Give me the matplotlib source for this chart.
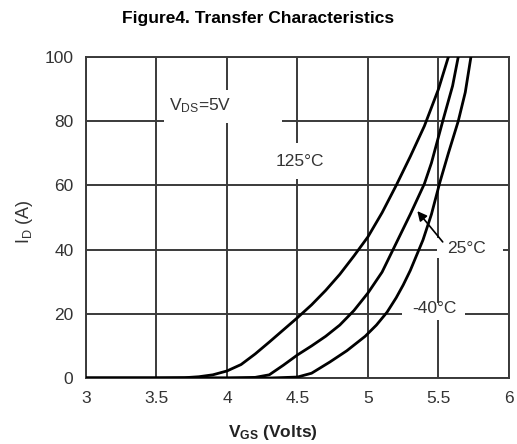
import matplotlib
matplotlib.use('Agg')
import matplotlib.pyplot as plt
from matplotlib.patches import Rectangle

plt.rcParams['font.family'] = ['Liberation Sans', 'DejaVu Sans']
plt.rcParams['mathtext.fontset'] = 'custom'
plt.rcParams['mathtext.rm'] = 'Liberation Sans'
plt.rcParams['mathtext.it'] = 'Liberation Sans:italic'
plt.rcParams['mathtext.bf'] = 'Liberation Sans:bold'

# Curves (VGS in volts, ID in amps)
vgs_125 = [3.0, 3.5, 3.7, 3.8, 3.9, 4.0, 4.1, 4.2, 4.3, 4.4, 4.5, 4.6, 4.7, 4.8,
           4.9, 5.0, 5.1, 5.2, 5.3, 5.4, 5.5, 5.57]
id_125 = [0, 0, 0.1, 0.4, 1.0, 2.2, 4.2, 7.5, 11.2, 15.0, 18.8, 22.8, 27.3, 32.3,
          38, 44, 51.5, 60, 69, 78.5, 90, 100]

vgs_25 = [3.0, 4.0, 4.2, 4.3, 4.4, 4.5, 4.6, 4.7, 4.8, 4.9, 5.0, 5.1, 5.2, 5.3,
          5.4, 5.45, 5.53, 5.6, 5.64]
id_25 = [0, 0, 0.2, 1.0, 4.0, 7.2, 10.0, 13.0, 16.5, 21.0, 26.5, 33, 42, 51,
         60.5, 67, 80, 91, 100]

vgs_m40 = [3.0, 4.3, 4.5, 4.6, 4.73, 4.85, 4.98, 5.06, 5.135, 5.2, 5.25, 5.3, 5.39,
           5.45, 5.51, 5.57, 5.64, 5.69, 5.73]
id_m40 = [0, 0, 0.3, 1.5, 5, 8.5, 13, 16.5, 20.5, 25, 29, 33.5, 43,
          51, 61, 70, 80, 89, 100]

x_ticks = [3, 3.5, 4, 4.5, 5, 5.5, 6]
x_labels = ['3', '3.5', '4', '4.5', '5', '5.5', '6']
y_ticks = [0, 20, 40, 60, 80, 100]

grid_col = '#3a3a3a'
text_col = '#333333'

fig = plt.figure(figsize=(5.17, 4.44), dpi=100)
ax = fig.add_axes([0.1663, 0.1486, 0.8182, 0.723])

ax.set_xlim(3, 6)
ax.set_ylim(0, 100)
ax.set_xticks(x_ticks)
ax.set_xticklabels(x_labels)
ax.set_yticks(y_ticks)
ax.tick_params(length=0, pad=9, labelsize=12.5, labelcolor=text_col)
ax.grid(True, color=grid_col, linewidth=1.4)
ax.set_axisbelow(True)
for s in ax.spines.values():
    s.set_color(grid_col)
    s.set_linewidth(1.4)

# white patches where the labels break the grid
gaps = [(3.55, 79.3, 0.84, 10.5), (4.30, 62.0, 0.42, 11.2),
        (5.49, 37.5, 0.47, 6.0), (5.24, 18.0, 0.45, 5.5)]
for gx, gy, gw, gh in gaps:
    ax.add_patch(Rectangle((gx, gy), gw, gh, facecolor='white', edgecolor='none', zorder=1.5))

ax.plot(vgs_125, id_125, color='black', linewidth=2, zorder=3)
ax.plot(vgs_25, id_25, color='black', linewidth=2, zorder=3)
ax.plot(vgs_m40, id_m40, color='black', linewidth=2, zorder=3)

ax.text(3.81, 85, r'V$_{\mathrm{DS}}$=5V', fontsize=12.5, color=text_col, ha='center', va='center', zorder=4)
ax.text(4.52, 67.3, '125°C', fontsize=12.5, color=text_col, ha='center', va='center', zorder=4)
ax.text(5.70, 40.5, '25°C', fontsize=12.5, color=text_col, ha='center', va='center', zorder=4)
ax.text(5.47, 21.8, '-40°C', fontsize=12.5, color=text_col, ha='center', va='center', zorder=4)
ax.annotate('', xy=(5.35, 52.0), xytext=(5.53, 42.4),
            arrowprops=dict(arrowstyle='-|>', color='black', lw=1.2, mutation_scale=14,
                            shrinkA=0, shrinkB=0), zorder=4)

fig.text(0.5, 0.958, 'Figure4. Transfer Characteristics', fontsize=12.5, fontweight='bold',
         ha='center', va='center')
fig.text(0.528, 0.027, r'$\mathbf{V_{GS}}$ (Volts)', fontsize=12.5, fontweight='bold',
         ha='center', va='center', color='#222222')
fig.text(0.048, 0.50, r'I$_{\mathrm{D}}$ (A)', fontsize=13, rotation=90,
         ha='center', va='center', color=text_col)

fig.savefig('out.png', dpi=100)
